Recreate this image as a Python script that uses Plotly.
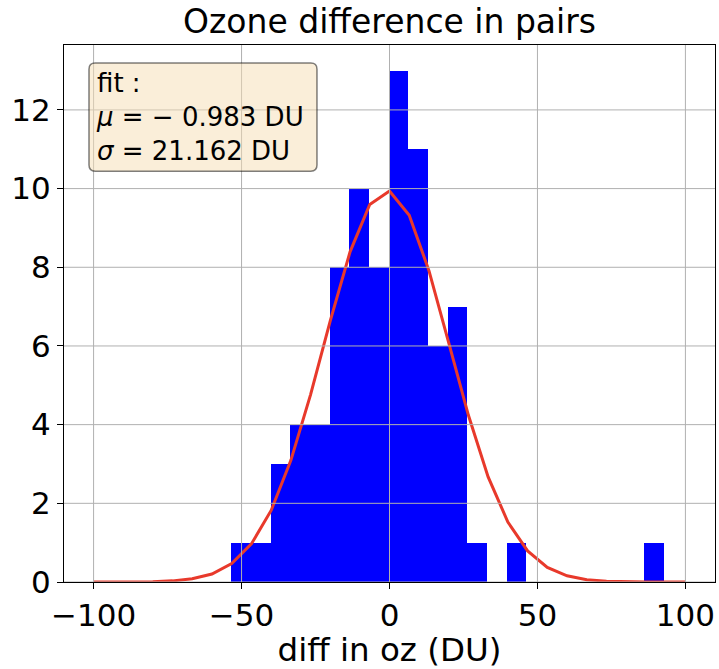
import numpy as np
import plotly.graph_objects as go

# ---- data ----
counts = [1, 1, 3, 4, 4, 8, 10, 8, 13, 11, 6, 7, 1, 0, 1, 0, 0, 0, 0, 0, 0, 1]
data_min = -53.5
data_max = 92.8

fit_x = [-100.0, -93.33, -86.67, -80.0, -73.33, -66.67, -60.0, -53.33, -46.67, -40.0,
         -33.33, -26.67, -20.0, -13.33, -6.67, 0.0, 6.67, 13.33, 20.0, 26.67,
         33.33, 40.0, 46.67, 53.33, 60.0, 66.67, 73.33, 80.0, 86.67, 93.33, 100.0]
fit_y = [0.0002, 0.0007, 0.0027, 0.0093, 0.0288, 0.0805, 0.204, 0.467, 0.968, 1.819,
         3.093, 4.763, 6.645, 8.392, 9.597, 9.939, 9.321, 7.915, 6.086, 4.238,
         2.672, 1.525, 0.789, 0.369, 0.157, 0.060, 0.021, 0.0066, 0.0019, 0.0005, 0.0001]

mu = -0.983
sigma = 21.162

x_ticks = [-100, -50, 0, 50, 100]
y_ticks = [0, 2, 4, 6, 8, 10, 12]

title_text = "Ozone difference in pairs"
xlabel = "diff in oz (DU)"

# ---- build ----
edges = np.linspace(data_min, data_max, len(counts) + 1)
centers = (edges[:-1] + edges[1:]) / 2
widths = np.diff(edges)

FONT = "DejaVu Sans"

fig = go.Figure()
fig.add_trace(go.Bar(x=centers, y=counts, width=widths,
                     marker=dict(color="#0000ff", line=dict(width=0)),
                     showlegend=False))
fig.add_trace(go.Scatter(x=fit_x, y=fit_y, mode="lines",
                         line=dict(color="#e8392b", width=3),
                         showlegend=False))

# gridlines drawn above bars (as in the reference)
for t in x_ticks:
    fig.add_shape(type="line", xref="x", yref="paper", x0=t, x1=t, y0=0, y1=1,
                  line=dict(color="#b0b0b0", width=1), layer="above")
for t in y_ticks:
    fig.add_shape(type="line", xref="paper", yref="y", x0=0, x1=1, y0=t, y1=t,
                  line=dict(color="#b0b0b0", width=1), layer="above")

# rounded text box
x0, x1, y0, y1 = 0.0384, 0.3886, 0.765, 0.9665
rx, ry = 0.0095, 0.0115
path = (f"M {x0+rx},{y0} L {x1-rx},{y0} Q {x1},{y0} {x1},{y0+ry} "
        f"L {x1},{y1-ry} Q {x1},{y1} {x1-rx},{y1} L {x0+rx},{y1} "
        f"Q {x0},{y1} {x0},{y1-ry} L {x0},{y0+ry} Q {x0},{y0} {x0+rx},{y0} Z")
fig.add_shape(type="path", path=path, xref="paper", yref="paper",
              fillcolor="rgba(245,222,179,0.5)", line=dict(color="rgba(0,0,0,0.5)", width=1.5),
              layer="above")
fig.add_annotation(xref="paper", yref="paper", x=x0 + 0.008, y=y1 - 0.006,
                   xanchor="left", yanchor="top", align="left", showarrow=False,
                   text=f"fit :<br><i>μ</i> = − {abs(mu):.3f} DU<br><i>σ</i> = {sigma:.3f} DU",
                   font=dict(family=FONT, size=26, color="black"))

fig.update_layout(
    width=719, height=669,
    margin=dict(l=64, r=4, t=45, b=87),
    plot_bgcolor="white", paper_bgcolor="white",
    bargap=0,
    title=dict(text=title_text, x=(64 + 715) / 2 / 719, xanchor="center",
               y=1 - 21 / 669, yanchor="middle", yref="container",
               font=dict(family=FONT, size=33, color="black")),
    font=dict(family=FONT, color="black"),
)
fig.update_xaxes(range=[-110, 110], tickvals=x_ticks,
                 ticktext=[str(v).replace("-", "−") for v in x_ticks],
                 showgrid=False, zeroline=False,
                 showline=True, linecolor="black", linewidth=1.2, mirror=True,
                 ticks="outside", ticklen=6, tickcolor="black",
                 tickfont=dict(family=FONT, size=31, color="black"),
                 title=dict(text=xlabel, font=dict(family=FONT, size=32.5, color="black"), standoff=7))
fig.update_yaxes(range=[0, 13.65], tickvals=y_ticks,
                 showgrid=False, zeroline=False,
                 showline=True, linecolor="black", linewidth=1.2, mirror=True,
                 ticks="outside", ticklen=6, tickcolor="black",
                 tickfont=dict(family=FONT, size=31, color="black"))

fig.write_html("out.html")
